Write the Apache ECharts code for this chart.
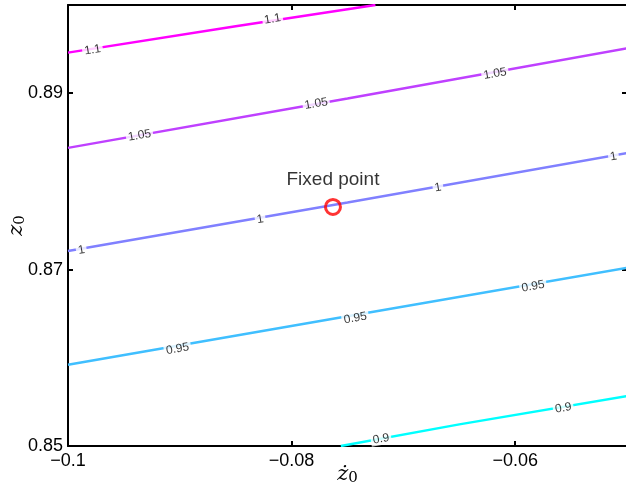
<!DOCTYPE html>
<html>
<head>
<meta charset="utf-8">
<script src="https://cdn.jsdelivr.net/npm/echarts@6/dist/echarts.min.js"></script>
<style>
  html, body { margin: 0; padding: 0; background: #fff; }
  #contour-chart { width: 626px; height: 489px; }
</style>
</head>
<body>
<div id="contour-chart"></div>
<script>
// contour levels and their colours (matlab "cool" map)
const levels = [0.9, 0.95, 1, 1.05, 1.1];
const levelColors = ['#00FFFF', '#40BFFF', '#8080FF', '#BF40FF', '#FF00FF'];

// contour paths [zdot0, z0]
const line090 = [[-0.0756, 0.85], [-0.0650, 0.85245], [-0.05, 0.85567]];
const line095 = [[-0.1, 0.8592], [-0.075, 0.8647], [-0.05, 0.8702]];
const line100 = [[-0.1, 0.8721], [-0.075, 0.8776], [-0.05, 0.8832]];
const line105 = [[-0.1, 0.8838], [-0.075, 0.8894], [-0.05, 0.8951]];
const line110 = [[-0.1, 0.8946], [-0.085, 0.8976], [-0.0725, 0.90]];

// inline label spots on each contour
const labels090 = [[-0.0720, 0.8508], [-0.0557, 0.8543]];
const labels095 = [[-0.0902, 0.8610], [-0.0743, 0.8645], [-0.0584, 0.8681]];
const labels100 = [[-0.0988, 0.8722], [-0.0828, 0.8757], [-0.0669, 0.8793], [-0.0512, 0.8828]];
const labels105 = [[-0.0936, 0.8852], [-0.0778, 0.8888], [-0.0618, 0.8922]];
const labels110 = [[-0.0978, 0.8949], [-0.0817, 0.8984]];

const fixedPoint = [-0.0763, 0.8771];

const xTicks = [-0.1, -0.08, -0.06];
const yTicks = [0.85, 0.87, 0.89];

const lines = [line090, line095, line100, line105, line110];
const labelSpots = [labels090, labels095, labels100, labels105, labels110];
const labelRotate = [10, 10, 10, 10, 9];

const chart = echarts.init(document.getElementById('contour-chart'));

const fmtTick = v => {
  const s = String(Math.round(v * 100) / 100);
  return s.replace('-', '\u2212');
};

const frameLine = { show: true, lineStyle: { color: '#000', width: 2 } };

const series = [];
lines.forEach((pts, i) => {
  series.push({
    type: 'line',
    data: pts,
    symbol: 'none',
    silent: true,
    lineStyle: { color: levelColors[i], width: 2.5 },
    z: 2,
  });
});
labelSpots.forEach((pts, i) => {
  series.push({
    type: 'scatter',
    data: pts,
    symbolSize: 0,
    silent: true,
    z: 3,
    label: {
      show: true,
      position: 'inside',
      formatter: String(levels[i]),
      rotate: labelRotate[i],
      color: '#000',
      fontSize: 12,
      fontFamily: 'Liberation Sans, Arial, sans-serif',
      backgroundColor: '#fff',
      padding: [0, 2],
    },
  });
});
series.push({
  type: 'scatter',
  data: [fixedPoint],
  symbol: 'circle',
  symbolSize: 15,
  z: 4,
  itemStyle: { color: 'rgba(0,0,0,0)', borderColor: '#FF0000', borderWidth: 3 },
  label: {
    show: true,
    position: 'top',
    distance: 9,
    formatter: 'Fixed point',
    color: '#000',
    fontSize: 19,
    fontFamily: 'Liberation Sans, Arial, sans-serif',
  },
});

chart.setOption({
  animation: false,
  grid: { left: 68, right: -1, top: 5, bottom: 43, containLabel: false, outerBoundsMode: 'none' },
  xAxis: [
    {
      type: 'value',
      min: -0.1,
      max: -0.05,
      position: 'bottom',
      axisLine: frameLine,
      axisTick: { show: true, inside: true, length: 5, customValues: xTicks, lineStyle: { color: '#000', width: 2 } },
      axisLabel: {
        customValues: xTicks,
        formatter: fmtTick,
        color: '#000',
        fontSize: 18,
        margin: 6,
        fontFamily: 'Liberation Sans, Arial, sans-serif',
      },
      splitLine: { show: false },
      name: '{a|\u017C}{b|0}',
      nameLocation: 'middle',
      nameMoveOverlap: false,
      nameGap: 17,
      nameTextStyle: {
        verticalAlign: 'top',
        rich: {
          a: { fontFamily: 'DejaVu Serif, serif', fontStyle: 'italic', fontSize: 21, color: '#000' },
          b: { fontFamily: 'DejaVu Serif, serif', fontSize: 15, color: '#000', padding: [8, 0, 0, 0] },
        },
      },
    },
    {
      type: 'value',
      min: -0.1,
      max: -0.05,
      position: 'top',
      axisLine: frameLine,
      axisTick: { show: true, inside: true, length: 5, customValues: xTicks, lineStyle: { color: '#000', width: 2 } },
      axisLabel: { show: false },
      splitLine: { show: false },
    },
  ],
  yAxis: [
    {
      type: 'value',
      min: 0.85,
      max: 0.9,
      position: 'left',
      axisLine: frameLine,
      axisTick: { show: true, inside: true, length: 5, customValues: yTicks, lineStyle: { color: '#000', width: 2 } },
      axisLabel: {
        customValues: yTicks,
        formatter: fmtTick,
        color: '#000',
        fontSize: 18,
        margin: 5,
        fontFamily: 'Liberation Sans, Arial, sans-serif',
      },
      splitLine: { show: false },
      name: '{a|z}{b|0}',
      nameLocation: 'middle',
      nameMoveOverlap: false,
      nameGap: 40,
      nameTextStyle: {
        rich: {
          a: { fontFamily: 'DejaVu Serif, serif', fontStyle: 'italic', fontSize: 21, color: '#000' },
          b: { fontFamily: 'DejaVu Serif, serif', fontSize: 15, color: '#000', padding: [8, 0, 0, 0] },
        },
      },
    },
    {
      type: 'value',
      min: 0.85,
      max: 0.9,
      position: 'right',
      axisLine: frameLine,
      axisTick: { show: true, inside: true, length: 5, customValues: yTicks, lineStyle: { color: '#000', width: 2 } },
      axisLabel: { show: false },
      splitLine: { show: false },
    },
  ],
  series: series,
});
</script>
</body>
</html>
